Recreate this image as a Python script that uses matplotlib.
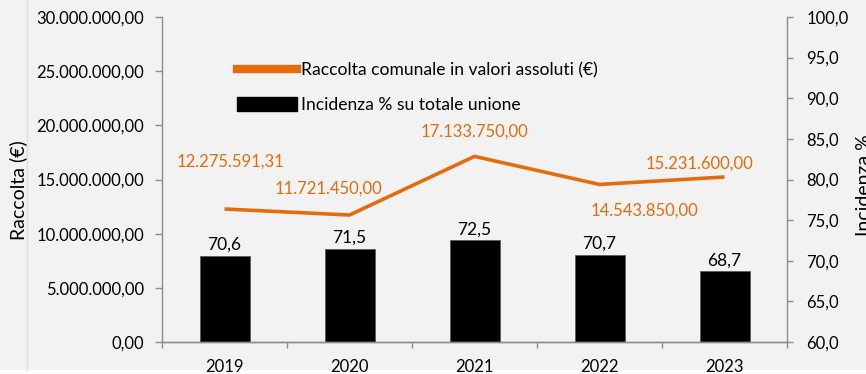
"""Raccolta comunale (line, left axis) and incidenza % on union total (bars, right axis)."""

import matplotlib

matplotlib.use("Agg")
import matplotlib.pyplot as plt
from matplotlib.lines import Line2D
from matplotlib.patches import Patch, Rectangle
from matplotlib.ticker import FixedLocator, FuncFormatter

years = ["2019", "2020", "2021", "2022", "2023"]
raccolta = [12275591.31, 11721450.00, 17133750.00, 14543850.00, 15231600.00]
incidenza = [70.6, 71.5, 72.5, 70.7, 68.7]

# label offsets in pixels relative to each line point
label_offsets = [(6, 47), (-21, 26), (0, 25), (45, -26), (-25, 13)]

ORANGE = "#E46C0A"
AXIS_GREY = "#8c8c8c"
BG = "#f2f2f2"

plt.rcParams["font.family"] = ["Lato", "DejaVu Sans"]


def it_number(value, decimals):
    text = f"{value:,.{decimals}f}"
    return text.replace(",", "X").replace(".", ",").replace("X", ".")


fig = plt.figure(figsize=(8.66, 3.74), dpi=100)
fig.patch.set_facecolor(BG)
ax = fig.add_axes([162 / 866, 32 / 374, 625 / 866, 325 / 374])
ax2 = ax.twinx()

x = list(range(len(years)))

# bars on the percentage axis
ax2.bar(x, incidenza, width=0.4, color="black", edgecolor="#5a5a5a", linewidth=0.6)
for xi, val in zip(x, incidenza):
    ax2.annotate(it_number(val, 1), (xi, val), xytext=(0, 3), textcoords="offset pixels",
                 ha="center", va="bottom", fontsize=12.5, color="black")

# line on the euro axis
ax.plot(x, raccolta, color=ORANGE, linewidth=2.6, solid_capstyle="butt")
for xi, val, (dx, dy) in zip(x, raccolta, label_offsets):
    ax.annotate(it_number(val, 2), (xi, val), xytext=(dx, dy), textcoords="offset pixels",
                ha="center", va="center", fontsize=12, color=ORANGE)

ax.set_zorder(ax2.get_zorder() + 1)
ax.patch.set_visible(False)
ax2.patch.set_facecolor(BG)

ax.set_xlim(-0.5, len(years) - 0.5)
ax.set_ylim(0, 30_000_000)
ax.set_yticks(range(0, 30_000_001, 5_000_000))
ax.yaxis.set_major_formatter(FuncFormatter(lambda v, _: it_number(v, 2)))
ax2.set_ylim(60, 100)
ax2.set_yticks(range(60, 101, 5))
ax2.yaxis.set_major_formatter(FuncFormatter(lambda v, _: it_number(v, 1)))

ax.set_xticks(x)
ax.set_xticklabels(years)
ax.xaxis.set_minor_locator(FixedLocator([i - 0.5 for i in range(len(years) + 1)]))
ax.tick_params(axis="x", which="major", length=0, pad=12, labelsize=12)
ax.tick_params(axis="x", which="minor", length=4, width=1, color=AXIS_GREY, direction="out")
ax.tick_params(axis="y", length=5, width=1, color=AXIS_GREY, pad=8, labelsize=12)
ax2.tick_params(axis="y", length=4, width=1, color=AXIS_GREY, pad=10, labelsize=12)

for a in (ax, ax2):
    a.spines["top"].set_visible(False)
    for side in ("left", "right", "bottom"):
        a.spines[side].set_color(AXIS_GREY)
        a.spines[side].set_linewidth(1)
ax.spines["right"].set_visible(False)
ax2.spines["left"].set_visible(False)

handles = [
    Line2D([0], [0], color=ORANGE, linewidth=6),
    Patch(facecolor="black", edgecolor="black"),
]
ax.legend(handles, ["Raccolta comunale in valori assoluti (€)", "Incidenza % su totale unione"],
          loc="upper left", bbox_to_anchor=(0.12, 0.862), frameon=False, fontsize=12.6,
          handlelength=3.45, handleheight=0.9, handletextpad=0.22, labelspacing=1.05,
          borderpad=0, borderaxespad=0)

fig.text(18 / 866, 1 - 190 / 374, "Raccolta (€)", rotation=90, ha="center", va="center", fontsize=14)
fig.text(856 / 866, 1 - 185 / 374, "Incidenza %", rotation=90, ha="left", va="center", fontsize=14)

# thin frame edge on the left and white strip at the bottom
fig.add_artist(Line2D([27 / 866, 27 / 866], [4 / 374, 1], transform=fig.transFigure,
                      color="#dedede", linewidth=1))
fig.add_artist(Rectangle((0, 0), 1, 4 / 374, transform=fig.transFigure, facecolor="white",
                         edgecolor="none"))

fig.savefig("out.png", dpi=100, facecolor=BG)
